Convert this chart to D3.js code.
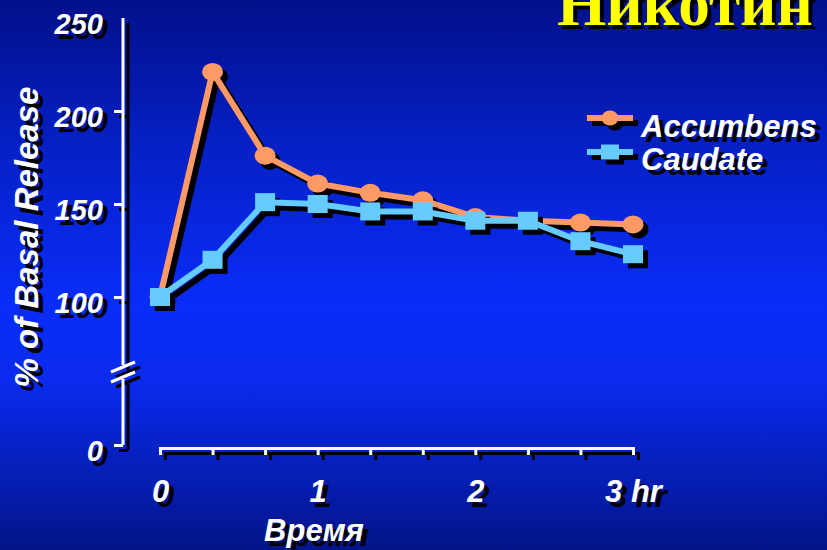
<!DOCTYPE html>
<html>
<head>
<meta charset="utf-8">
<script src="https://cdn.jsdelivr.net/npm/d3@7"></script>
<style>
  html, body { margin: 0; padding: 0; background: #0a2ae8; }
  svg { display: block; }
  text.lbl { font-family: "Liberation Sans", Arial, sans-serif; font-weight: bold; font-style: italic; }
  text.ttl { font-family: "Liberation Serif", "Times New Roman", serif; font-weight: bold; font-style: normal; }
</style>
</head>
<body>
<div id="chart"></div>
<script>
// Time after injection, in minutes (ticks every 20 min)
const minutes = [0, 20, 40, 60, 80, 100, 120, 140, 160, 180];
// Dopamine release, % of basal level
const accumbens = [100, 221, 176, 161, 156, 152, 143, 141, 140, 139];
const caudate   = [100, 120, 151, 150, 146, 146, 141, 141, 130, 123];

const seriesNames = ["Accumbens", "Caudate"];
const yTickValues = [0, 100, 150, 200, 250];
const xLabelMinutes = [0, 60, 120, 180];
const xLabelTexts = ["0", "1", "2", "3 hr"];

const title = "Никотин";
const yTitle = "% of Basal Release";
const xTitle = "Время";

const W = 827, H = 550;
const SHADOW = 5;

const svg = d3.select("#chart").append("svg")
  .attr("width", W).attr("height", H);

// Slide background: dark navy at the edges, bright blue in the middle
const defs = svg.append("defs");
const grad = defs.append("linearGradient")
  .attr("id", "bg").attr("x1", 0).attr("y1", 0).attr("x2", 0).attr("y2", 1);
[[0, "#02108a"], [0.3, "#0622cc"], [0.55, "#0a2cf8"], [0.7, "#0a2aec"], [1, "#021488"]]
  .forEach(([o, c]) => grad.append("stop").attr("offset", o).attr("stop-color", c));
svg.append("rect").attr("width", W).attr("height", H).attr("fill", "url(#bg)");

// Scales: the y axis is broken between 0 and 100
const x = d3.scaleLinear().domain([0, 180]).range([160, 633]);
const y = d3.scaleLinear().domain([0, 100, 250]).range([445, 297, 18]);
const yAxisX = 123;
const xAxisY = 448;

const series = [
  { name: seriesNames[0], values: accumbens, color: "#ff9966", shape: "circle" },
  { name: seriesNames[1], values: caudate,   color: "#66ccff", shape: "square" }
];

// Draws axes and labels in one colour; called once for the shadow and once for the ink
function drawFrame(g, ink) {
  // y axis ticks and labels
  const yAxis = d3.axisLeft(y)
    .tickValues(yTickValues)
    .tickSize(9)
    .tickPadding(11)
    .tickFormat(d3.format("d"));
  const ya = g.append("g").attr("transform", `translate(${yAxisX},0)`).call(yAxis);
  ya.select(".domain").remove();
  ya.selectAll(".tick line").attr("stroke", ink).attr("stroke-width", 3)
    .filter(d => d === 250).remove();
  ya.selectAll(".tick text").attr("class", "lbl").attr("fill", ink).attr("font-size", 29)
    .attr("dy", "0.55em");

  // broken y axis spine
  const brk = 372;
  g.append("path")
    .attr("d", `M${yAxisX},${y(250)}V${brk - 7}M${yAxisX},${brk + 7}V${y(0)}`)
    .attr("stroke", ink).attr("stroke-width", 3).attr("fill", "none");
  [-5, 5].forEach(off => {
    g.append("line")
      .attr("x1", yAxisX - 12).attr("y1", brk + off + 5)
      .attr("x2", yAxisX + 12).attr("y2", brk + off - 5)
      .attr("stroke", ink).attr("stroke-width", 3);
  });

  // x axis
  const xAxis = d3.axisBottom(x)
    .tickValues(minutes)
    .tickSize(7)
    .tickSizeOuter(7)
    .tickFormat(d => {
      const i = xLabelMinutes.indexOf(d);
      return i >= 0 ? xLabelTexts[i] : "";
    });
  const xa = g.append("g").attr("transform", `translate(0,${xAxisY})`).call(xAxis);
  xa.select(".domain").attr("stroke", ink).attr("stroke-width", 3);
  xa.selectAll(".tick line").attr("stroke", ink).attr("stroke-width", 3);
  xa.selectAll(".tick text").attr("class", "lbl").attr("fill", ink).attr("font-size", 31)
    .attr("y", 32);

  // axis titles
  g.append("text").attr("class", "lbl")
    .attr("transform", "translate(38,237) rotate(-90)")
    .attr("text-anchor", "middle").attr("font-size", 33).attr("fill", ink)
    .text(yTitle);
  g.append("text").attr("class", "lbl")
    .attr("x", 314).attr("y", 541)
    .attr("text-anchor", "middle").attr("font-size", 31).attr("fill", ink)
    .text(xTitle);

  // legend labels
  series.forEach((s, i) => {
    g.append("text").attr("class", "lbl")
      .attr("x", 641).attr("y", 137 + i * 33)
      .attr("font-size", 31).attr("fill", ink)
      .text(s.name);
  });
}

function drawMarker(sel, shape, fill, w, h) {
  if (shape === "circle") {
    sel.append("ellipse").attr("rx", w / 2).attr("ry", h / 2).attr("fill", fill);
  } else {
    sel.append("rect").attr("x", -w / 2).attr("y", -h / 2)
      .attr("width", w).attr("height", h).attr("fill", fill);
  }
}

function drawSeries(g, s, shadow) {
  const fill = shadow ? "#000" : s.color;
  const pts = minutes.map((m, i) => [x(m), y(s.values[i])]);
  g.append("path")
    .attr("d", d3.line()(pts))
    .attr("fill", "none").attr("stroke", fill).attr("stroke-width", 6)
    .attr("stroke-linejoin", "round");
  const mw = s.shape === "circle" ? 21 : 20;
  const mh = 18;
  g.selectAll(null).data(pts).join("g")
    .attr("transform", d => `translate(${d[0]},${d[1]})`)
    .each(function () { drawMarker(d3.select(this), s.shape, fill, mw, mh); });
}

function drawLegendKey(g, s, i, shadow) {
  const fill = shadow ? "#000" : s.color;
  const cy = 118 + i * 34;
  g.append("line").attr("x1", 587).attr("x2", 633).attr("y1", cy).attr("y2", cy)
    .attr("stroke", fill).attr("stroke-width", 6);
  const k = g.append("g").attr("transform", `translate(610,${cy})`);
  if (s.shape === "circle") drawMarker(k, s.shape, fill, 17, 15);
  else drawMarker(k, s.shape, fill, 18, 15);
}

// Axes, labels: shadow first, then white
drawFrame(svg.append("g").attr("transform", `translate(${SHADOW},${SHADOW})`), "#000");
drawFrame(svg.append("g"), "#fff");

// Title, sized to span its slot at the top right
const titleLeft = 557, titleWidth = 256;
const titleG = svg.append("g");
const tShadow = titleG.append("text").attr("class", "ttl")
  .attr("x", titleLeft + 4).attr("y", 29).attr("fill", "#000").text(title);
const tMain = titleG.append("text").attr("class", "ttl")
  .attr("x", titleLeft).attr("y", 25).attr("fill", "#ffff00").text(title);
let fs = 60;
tMain.attr("font-size", fs);
const len = tMain.node().getComputedTextLength();
fs = fs * titleWidth / len;
tMain.attr("font-size", fs);
tShadow.attr("font-size", fs);

// Legend keys
series.forEach((s, i) => {
  drawLegendKey(svg.append("g").attr("transform", `translate(${SHADOW},${SHADOW})`), s, i, true);
  drawLegendKey(svg.append("g"), s, i, false);
});

// Data series, each with a drop shadow
series.forEach(s => {
  drawSeries(svg.append("g").attr("transform", `translate(${SHADOW},${SHADOW})`), s, true);
  drawSeries(svg.append("g"), s, false);
});
</script>
</body>
</html>
